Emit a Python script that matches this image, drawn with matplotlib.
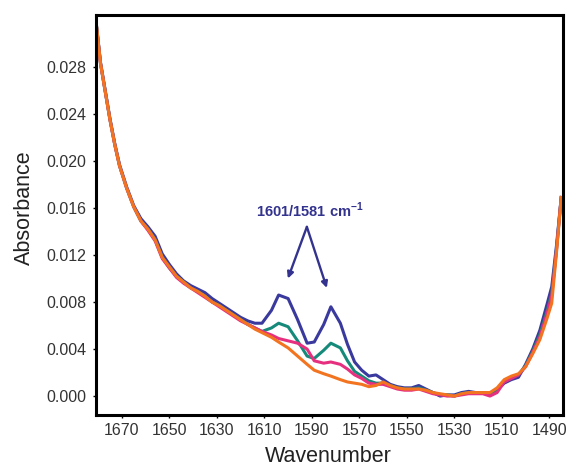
import numpy as np
import matplotlib
matplotlib.use("Agg")
import matplotlib.pyplot as plt

plt.rcParams["font.family"] = ["Liberation Sans", "DejaVu Sans"]
plt.rcParams["mathtext.fontset"] = "custom"
plt.rcParams["mathtext.rm"] = "Liberation Sans"
plt.rcParams["mathtext.bf"] = "Liberation Sans:bold"

# wavenumber grid (cm-1)
wavenumber = [1681, 1679, 1677, 1675, 1673, 1671, 1668, 1665, 1662, 1659,
              1656, 1653, 1650, 1647, 1644, 1641, 1638, 1635, 1632, 1629,
              1626, 1623, 1620, 1617, 1614, 1611, 1607, 1604, 1600, 1596,
              1592, 1589, 1585, 1582, 1578, 1575, 1572, 1569, 1566, 1563,
              1560, 1557, 1554, 1551, 1548, 1545, 1542, 1539, 1536, 1533,
              1530, 1527, 1524, 1521, 1518, 1515, 1512, 1509, 1506, 1503,
              1500, 1497, 1494, 1491, 1489, 1487, 1485]

abs_blue = [.0321, .0284, .0260, .0236, .0215, .0197, .0178, .0162, .0151, .0144,
            .0136, .0121, .0112, .0104, .0098, .0094, .0091, .0088, .0083, .0079,
            .0075, .0071, .0067, .0064, .0062, .0062, .0073, .0086, .0083, .0065,
            .0045, .0046, .0061, .0076, .0062, .0044, .0029, .0022, .0017, .0018,
            .0014, .0010, .0008, .0007, .0007, .0009, .0006, .0003, .0000, .0001,
            .0001, .0003, .0004, .0003, .0003, .0002, .0005, .0011, .0014, .0016,
            .0027, .0040, .0056, .0078, .0093, .0128, .0169]

abs_teal = [.0321, .0283, .0259, .0235, .0214, .0196, .0177, .0161, .0149, .0142,
            .0133, .0118, .0109, .0102, .0097, .0092, .0089, .0085, .0080, .0077,
            .0073, .0069, .0065, .0061, .0058, .0055, .0058, .0062, .0059, .0047,
            .0034, .0032, .0039, .0045, .0041, .0030, .0021, .0017, .0013, .0011,
            .0011, .0009, .0007, .0006, .0006, .0007, .0005, .0003, .0001, .0001,
            .0000, .0002, .0003, .0003, .0003, .0002, .0005, .0013, .0016, .0018,
            .0026, .0038, .0052, .0072, .0087, .0125, .0169]

abs_magenta = [.0320, .0283, .0259, .0235, .0214, .0196, .0177, .0161, .0149, .0141,
               .0132, .0117, .0109, .0101, .0096, .0092, .0088, .0084, .0080, .0076,
               .0072, .0068, .0064, .0061, .0058, .0055, .0052, .0049, .0047, .0045,
               .0040, .0030, .0028, .0029, .0027, .0023, .0018, .0015, .0011, .0010,
               .0010, .0008, .0006, .0005, .0005, .0006, .0004, .0002, .0001, .0000,
               .0000, .0001, .0002, .0002, .0002, .0000, .0003, .0012, .0015, .0018,
               .0025, .0037, .0050, .0070, .0085, .0124, .0169]

abs_orange = [.0321, .0283, .0259, .0235, .0214, .0196, .0177, .0161, .0149, .0142,
              .0133, .0118, .0110, .0102, .0097, .0092, .0089, .0085, .0080, .0077,
              .0073, .0069, .0065, .0061, .0057, .0054, .0050, .0046, .0041, .0034,
              .0027, .0022, .0019, .0017, .0014, .0012, .0011, .0010, .0008, .0009,
              .0012, .0009, .0007, .0006, .0006, .0006, .0005, .0003, .0002, .0001,
              .0000, .0002, .0003, .0003, .0003, .0003, .0007, .0014, .0017, .0019,
              .0025, .0036, .0048, .0066, .0079, .0122, .0169]

xticks = [1670, 1650, 1630, 1610, 1590, 1570, 1550, 1530, 1510, 1490]
yticks = [0.000, 0.004, 0.008, 0.012, 0.016, 0.020, 0.024, 0.028]

series = [(abs_blue, "#3a3a9e"), (abs_teal, "#168a7a"),
          (abs_magenta, "#e6307f"), (abs_orange, "#f37420")]

fig = plt.figure(figsize=(5.68, 4.68), dpi=100)
ax = fig.add_axes([0.169, 0.113, 0.822, 0.855])

for vals, col in series:
    ax.plot(wavenumber, vals, color=col, lw=2.2, solid_joinstyle="round")

ax.set_xlim(1680.9, 1484.3)
ax.set_ylim(-0.00162, 0.03243)
ax.set_xticks(xticks)
ax.set_yticks(yticks)
ax.set_yticklabels(["%.3f" % v for v in yticks])
ax.tick_params(length=2, width=1, labelsize=11.5, labelcolor="#333333")
ax.tick_params(axis="x", pad=4)
ax.tick_params(axis="y", pad=5)

for sp in ax.spines.values():
    sp.set_linewidth(2.2)
    sp.set_color("black")

ax.set_ylabel("Absorbance", fontsize=15.5, color="#222222")
ax.set_xlabel("Wavenumber", fontsize=15.5, color="#222222")
ax.yaxis.set_label_coords(-0.13, 0.5175)
ax.xaxis.set_label_coords(0.497, -0.078)

# peak annotation
navy = "#33338f"
apex = (1592.1, 0.0144)
for tip in [(1600.1, 0.0100), (1583.7, 0.0092)]:
    ax.annotate("", xy=tip, xytext=apex,
                arrowprops=dict(arrowstyle="-|>", color=navy, lw=1.7,
                                mutation_scale=9, shrinkA=0, shrinkB=0))
ax.text(1590.8, 0.0158, r"1601/1581 cm$^{\mathbf{-1}}$", color=navy,
        fontsize=10.5, fontweight="bold", ha="center", va="center")

fig.savefig("out.png", dpi=100)
